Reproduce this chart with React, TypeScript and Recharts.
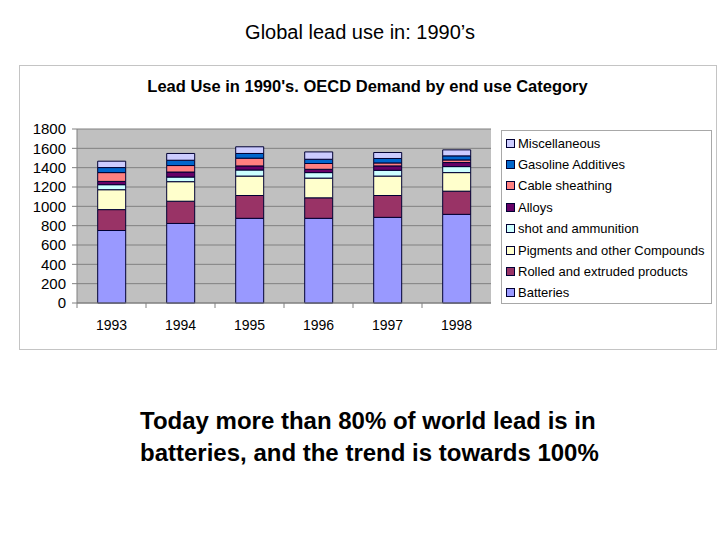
import { BarChart, Bar, XAxis, YAxis, CartesianGrid } from 'recharts';

const years = ['1993', '1994', '1995', '1996', '1997', '1998'];
const batteries = [750, 823, 876, 876, 886, 917];
const rolled = [216, 230, 236, 212, 226, 240];
const pigments = [206, 202, 201, 204, 201, 192];
const shot = [52, 48, 63, 57, 60, 62];
const alloys = [34, 52, 42, 34, 45, 42];
const cable = [91, 67, 80, 60, 31, 27];
const gasoline = [52, 55, 49, 44, 46, 42];
const misc = [66, 70, 69, 76, 62, 62];
const yTicks = [0, 200, 400, 600, 800, 1000, 1200, 1400, 1600, 1800];

// bottom to top, as stacked
const series = [
  { key: 'batteries', name: 'Batteries', values: batteries, color: '#9999ff' },
  { key: 'rolled', name: 'Rolled and extruded products', values: rolled, color: '#993366' },
  { key: 'pigments', name: 'Pigments and other Compounds', values: pigments, color: '#ffffcc' },
  { key: 'shot', name: 'shot and ammunition', values: shot, color: '#ccffff' },
  { key: 'alloys', name: 'Alloys', values: alloys, color: '#660066' },
  { key: 'cable', name: 'Cable sheathing', values: cable, color: '#ff8080' },
  { key: 'gasoline', name: 'Gasoline Additives', values: gasoline, color: '#0066cc' },
  { key: 'misc', name: 'Miscellaneous', values: misc, color: '#ccccff' },
];

const data = years.map((year, i) => {
  const row: Record<string, string | number> = { year };
  series.forEach(s => { row[s.key] = s.values[i]; });
  return row;
});

const FONT = '"Liberation Sans", Arial, sans-serif';

// Excel-style: tick marks sit between categories, not under the label
function YearTick(props: any) {
  const { x, y, payload } = props;
  const half = payload?.offset ?? 0;
  return (
    <g>
      <line x1={x - half} x2={x - half} y1={y - 17} y2={y - 12} stroke="#808080" />
      <text x={x} y={y} dy="0.71em" textAnchor="middle" fill="#000" fontSize={14} fontFamily={FONT}>
        {payload.value}
      </text>
    </g>
  );
}

export default function App() {
  return (
    <div style={{ position: 'fixed', left: 0, top: 0, width: 720, height: 540, background: '#fff', fontFamily: FONT }}>
      <div style={{ position: 'absolute', top: 21, width: 720, textAlign: 'center', fontSize: 20, color: '#000' }}>
        Global lead use in: 1990’s
      </div>

      <div style={{ position: 'absolute', left: 19, top: 65, width: 696, height: 283, border: '1px solid #c4c4c4' }} />

      <div style={{ position: 'absolute', top: 77, left: 19, width: 697, textAlign: 'center', fontSize: 16.5, fontWeight: 'bold', color: '#000' }}>
        Lead Use in 1990's. OECD Demand by end use Category
      </div>

      <div style={{ position: 'absolute', left: 0, top: 0 }}>
        <BarChart
          width={720}
          height={540}
          data={data}
          barCategoryGap="30%"
          margin={{ top: 129, right: 229, bottom: 207, left: 17 }}
        >
          <CartesianGrid horizontal vertical={false} stroke="#808080" fill="#c0c0c0" fillOpacity={1} />
          <XAxis
            dataKey="year"
            height={30}
            axisLine={{ stroke: '#808080' }}
            tickLine={false}
            tickSize={5}
            tickMargin={12}
            tick={<YearTick />}
            interval={0}
          />
          <YAxis
            width={60}
            domain={[0, 1800]}
            ticks={yTicks}
            interval={0}
            axisLine={{ stroke: '#808080' }}
            tickLine={{ stroke: '#808080' }}
            tickSize={5}
            tickMargin={6}
            tick={{ fill: '#000', fontSize: 15, fontFamily: FONT }}
          />
          {series.map(s => (
            <Bar
              key={s.key}
              dataKey={s.key}
              name={s.name}
              stackId="lead"
              fill={s.color}
              stroke="#000033"
              strokeWidth={1}
              isAnimationActive={false}
            />
          ))}
        </BarChart>
      </div>

      <div
        style={{
          position: 'absolute', left: 501, top: 130, width: 211, height: 174,
          border: '1px solid #a8a8a8', background: '#fff', boxSizing: 'border-box',
        }}
      >
        {[...series].reverse().map((s, i) => (
          <div
            key={s.key}
            style={{ position: 'absolute', left: 4, top: 2 + i * 21.4, height: 20, display: 'flex', alignItems: 'center', fontSize: 13, color: '#000', whiteSpace: 'nowrap' }}
          >
            <span style={{ display: 'inline-block', width: 7, height: 7, background: s.color, border: '1px solid #000033', marginRight: 3 }} />
            {s.name}
          </div>
        ))}
      </div>

      <div style={{ position: 'absolute', left: 140, top: 405, fontSize: 24, fontWeight: 'bold', lineHeight: '32px', color: '#000' }}>
        Today more than 80% of world lead is in<br />
        batteries, and the trend is towards 100%
      </div>
    </div>
  );
}
